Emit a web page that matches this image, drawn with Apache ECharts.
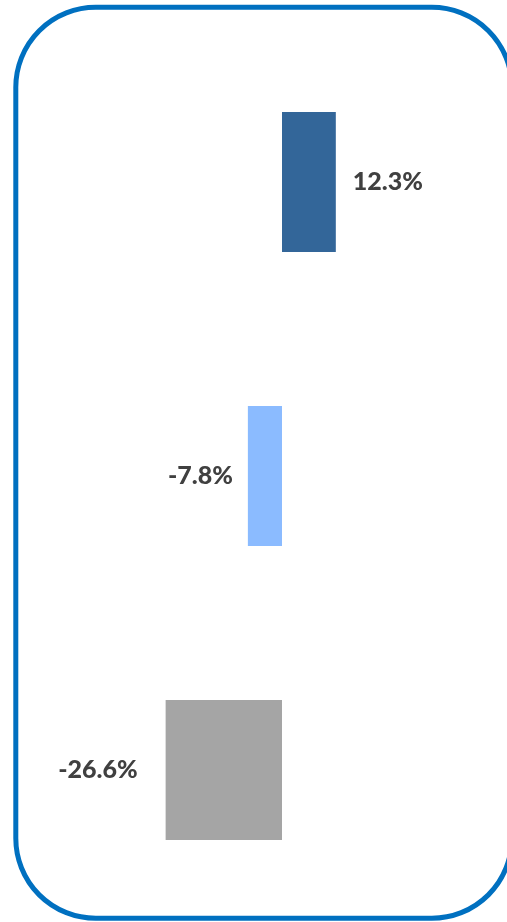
<!DOCTYPE html>
<html>
<head>
<meta charset="utf-8">
<title>Change</title>
<script src="https://cdn.jsdelivr.net/npm/echarts@6/dist/echarts.min.js"></script>
<style>
  html, body { margin: 0; padding: 0; background: #ffffff; }
  #chart { width: 507px; height: 922px; }
</style>
</head>
<body>
<div id="chart"></div>
<script>
// Categories, top to bottom
var categories = ['Group A', 'Group B', 'Group C'];
// Percentage change per category
var changes = [12.3, -7.8, -26.6];
// Bar fill per category
var barColors = ['#336699', '#8BBBFF', '#A5A5A5'];
// Gap between bar end and its value label
var labelGaps = [17, 15, 28];

var chart = echarts.init(document.getElementById('chart'), null, { renderer: 'canvas' });

var seriesData = changes.map(function (v, i) {
  return {
    value: v,
    itemStyle: { color: barColors[i] },
    label: {
      position: v >= 0 ? 'right' : 'left',
      distance: labelGaps[i]
    }
  };
});

chart.setOption({
  animation: false,
  backgroundColor: '#ffffff',
  graphic: [{
    type: 'rect',
    z: 100,
    silent: true,
    shape: { x: 15.8, y: 7.3, width: 496, height: 911, r: 80 },
    style: { fill: 'none', stroke: '#0070C0', lineWidth: 5 }
  }],
  grid: { left: 107, width: 350, top: 35, bottom: 5, containLabel: false },
  xAxis: {
    type: 'value',
    min: -40,
    max: 40,
    show: false
  },
  yAxis: {
    type: 'category',
    data: categories,
    inverse: true,
    show: false
  },
  series: [{
    type: 'bar',
    data: seriesData,
    barWidth: 140,
    label: {
      show: true,
      fontFamily: 'Lato',
      fontWeight: 900,
      fontSize: 25,
      color: '#404040',
      formatter: function (p) { return p.value.toFixed(1) + '%'; }
    }
  }]
});
</script>
</body>
</html>
